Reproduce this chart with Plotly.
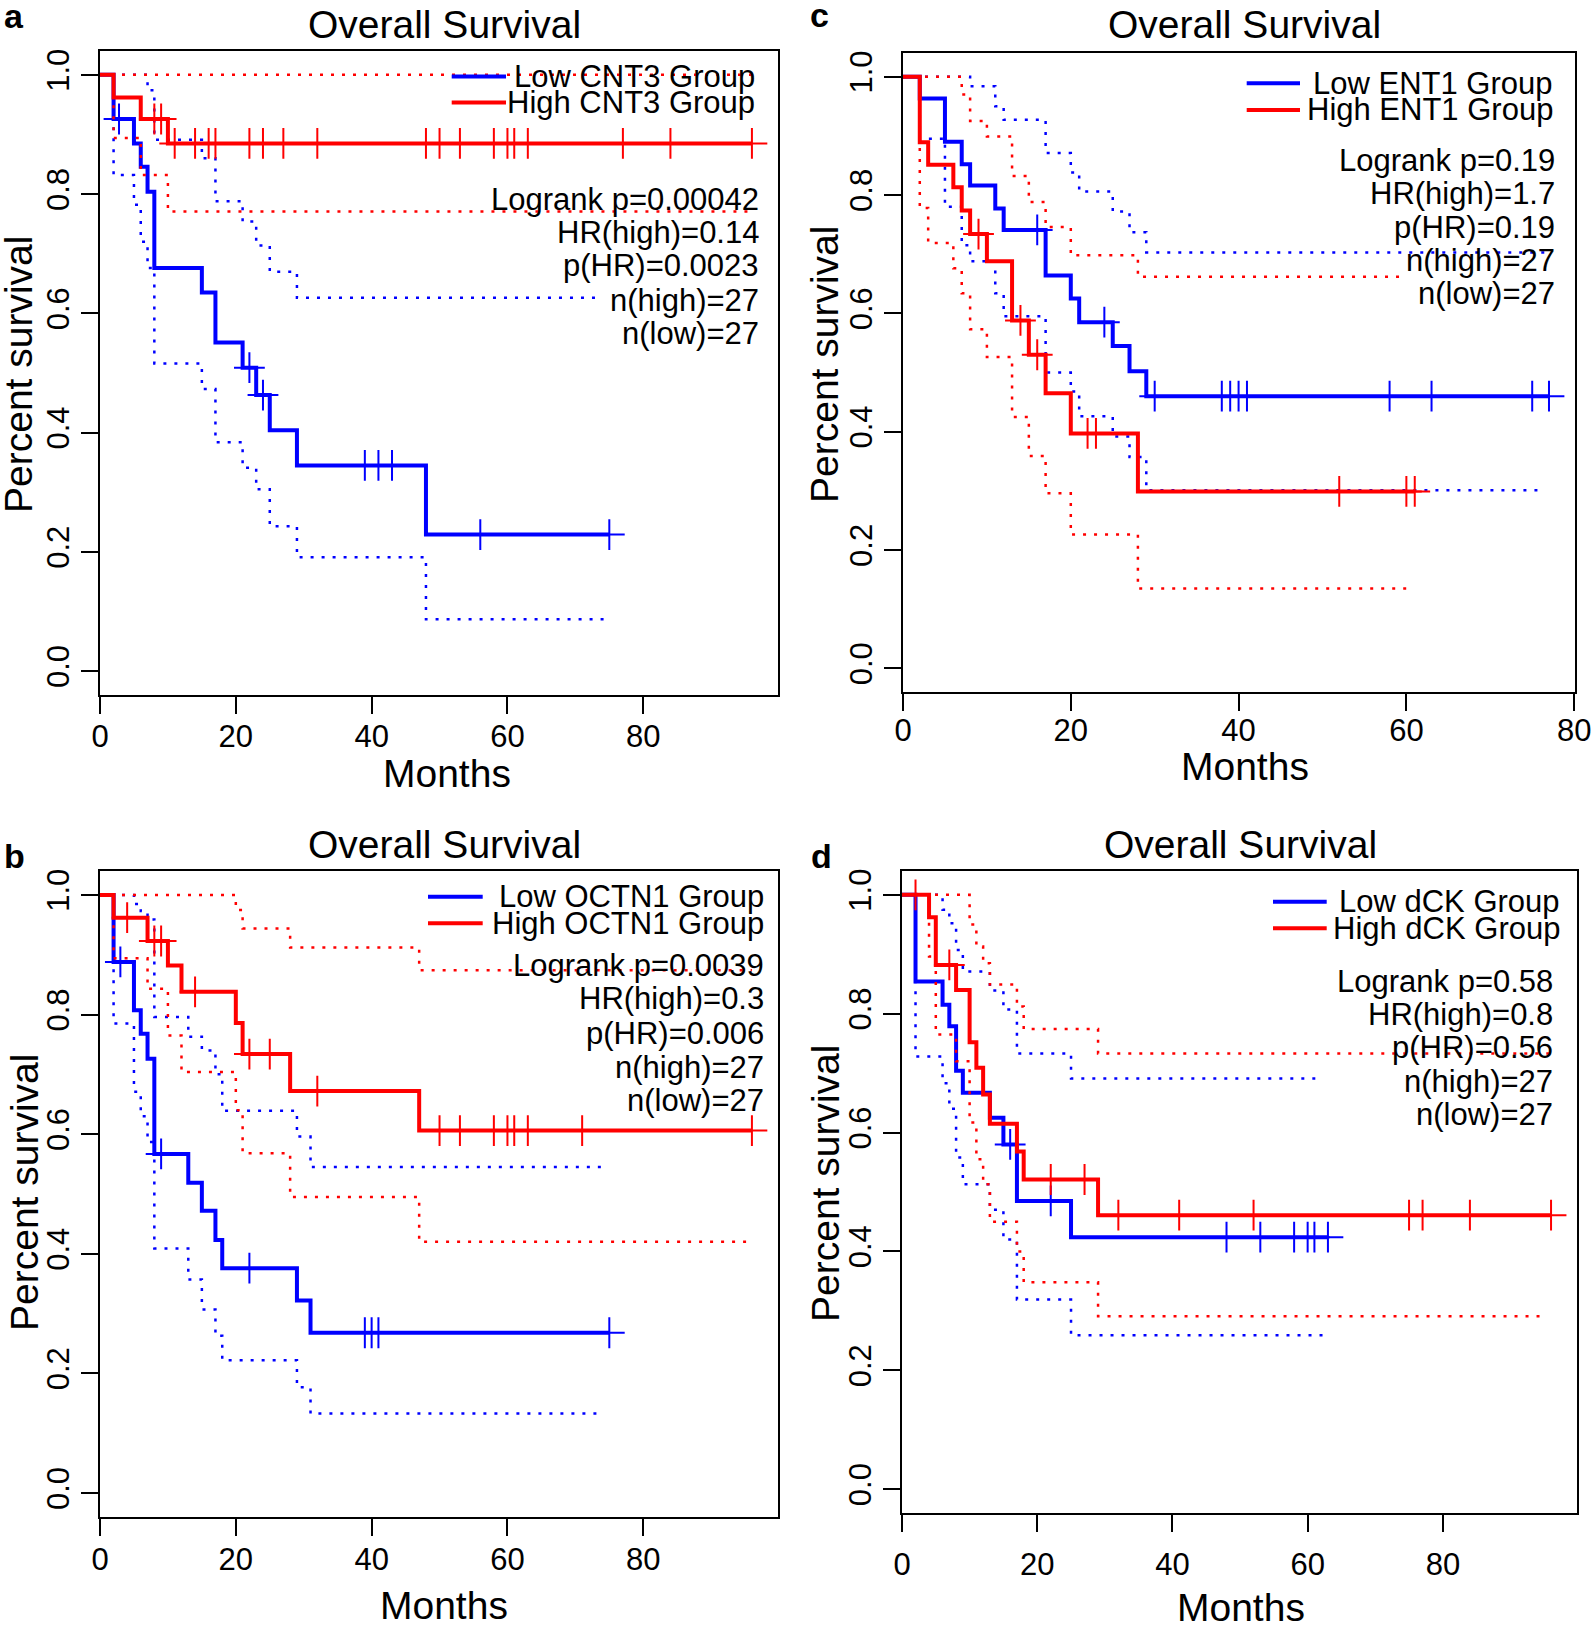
import numpy as np
import plotly.graph_objects as go

# ---------------- panel a : CNT3 ----------------
a_low_t = [0, 2, 5, 6, 7, 8, 15, 17, 21, 23, 25, 29, 48]
a_low_s = [1.0, 0.926, 0.885, 0.846, 0.804, 0.676, 0.635, 0.551, 0.509, 0.463, 0.404, 0.345, 0.229]
a_low_cens = [2.8, 22, 24, 39, 41, 43, 56, 75]
a_low_up_t = [0, 7, 8, 15, 17, 21, 23, 25, 29]
a_low_up = [1.0, 0.974, 0.891, 0.86, 0.788, 0.754, 0.714, 0.67, 0.626]
a_low_up_end = 74
a_low_lo_t = [0, 2, 5, 6, 7, 8, 15, 17, 21, 23, 25, 29, 48]
a_low_lo = [1.0, 0.832, 0.782, 0.72, 0.676, 0.516, 0.473, 0.384, 0.341, 0.305, 0.243, 0.191, 0.087]
a_low_lo_end = 75

a_high_t = [0, 2, 6, 10]
a_high_s = [1.0, 0.962, 0.926, 0.885]
a_high_cens = [8, 9, 11, 14, 16, 17, 22, 24, 27, 32, 48, 50, 53, 58, 60, 61, 63, 77, 84, 96]
a_high_up_t = [0]
a_high_up = [1.0]
a_high_up_end = 96
a_high_lo_t = [0, 2, 6, 10]
a_high_lo = [1.0, 0.894, 0.832, 0.771]
a_high_lo_end = 96

a_stats = ["Logrank p=0.00042", "HR(high)=0.14", "p(HR)=0.0023", "n(high)=27", "n(low)=27"]

# ---------------- panel c : ENT1 ----------------
c_low_t = [0, 2, 5, 7, 8, 11, 12, 17, 20, 21, 25, 27, 29]
c_low_s = [1.0, 0.963, 0.89, 0.852, 0.816, 0.777, 0.741, 0.664, 0.625, 0.585, 0.545, 0.502, 0.46]
c_low_cens = [16, 24, 30, 38, 39, 40, 41, 58, 63, 75, 77]
c_low_up_t = [0, 8, 11, 12, 17, 20, 21, 25, 27, 29]
c_low_up = [1.0, 0.984, 0.95, 0.927, 0.871, 0.838, 0.806, 0.772, 0.737, 0.703]
c_low_up_end = 76.8
c_low_lo_t = [0, 2, 5, 7, 8, 11, 12, 17, 20, 21, 25, 27, 29]
c_low_lo = [1.0, 0.895, 0.78, 0.715, 0.688, 0.634, 0.595, 0.50, 0.468, 0.426, 0.392, 0.357, 0.301]
c_low_lo_end = 76.4

c_high_t = [0, 2, 3, 6, 7, 8, 10, 13, 15, 17, 20, 28]
c_high_s = [1.0, 0.889, 0.851, 0.813, 0.774, 0.734, 0.688, 0.588, 0.53, 0.465, 0.397, 0.299]
c_high_cens = [9, 14, 16, 22, 23, 52, 60, 61]
c_high_up_t = [0, 7, 8, 10, 13, 15, 17, 20, 28]
c_high_up = [1.0, 0.97, 0.925, 0.899, 0.832, 0.788, 0.746, 0.698, 0.662]
c_high_up_end = 60
c_high_lo_t = [0, 2, 3, 6, 7, 8, 10, 13, 15, 17, 20, 28]
c_high_lo = [1.0, 0.778, 0.719, 0.676, 0.634, 0.573, 0.526, 0.425, 0.359, 0.296, 0.226, 0.135]
c_high_lo_end = 60.7

c_stats = ["Logrank p=0.19", "HR(high)=1.7", "p(HR)=0.19", "n(high)=27", "n(low)=27"]

# ---------------- panel b : OCTN1 ----------------
b_low_t = [0, 2, 5, 6, 7, 8, 13, 15, 17, 18, 29, 31]
b_low_s = [1.0, 0.888, 0.807, 0.768, 0.726, 0.567, 0.519, 0.472, 0.423, 0.376, 0.322, 0.268]
b_low_cens = [3, 9, 22, 39, 40, 41, 75]
b_low_up_t = [0, 5, 6, 7, 8, 13, 15, 17, 18, 29, 31]
b_low_up = [1.0, 0.985, 0.973, 0.959, 0.796, 0.763, 0.74, 0.70, 0.639, 0.596, 0.545]
b_low_up_end = 74.5
b_low_lo_t = [0, 2, 5, 6, 7, 8, 13, 15, 17, 18, 29, 31]
b_low_lo = [1.0, 0.785, 0.671, 0.63, 0.587, 0.409, 0.357, 0.307, 0.263, 0.222, 0.177, 0.133]
b_low_lo_end = 74

b_high_t = [0, 2, 7, 10, 12, 20, 21, 28, 47]
b_high_s = [1.0, 0.962, 0.923, 0.882, 0.838, 0.786, 0.734, 0.672, 0.606]
b_high_cens = [4, 8, 9, 14, 22, 25, 32, 50, 53, 58, 60, 61, 63, 71, 96]
b_high_up_t = [0, 20, 21, 28, 47]
b_high_up = [1.0, 0.975, 0.944, 0.912, 0.874]
b_high_up_end = 96
b_high_lo_t = [0, 2, 7, 10, 12, 20, 21, 28, 47]
b_high_lo = [1.0, 0.894, 0.843, 0.765, 0.704, 0.64, 0.568, 0.495, 0.42]
b_high_lo_end = 95.8

b_stats = ["Logrank p=0.0039", "HR(high)=0.3", "p(HR)=0.006", "n(high)=27", "n(low)=27"]

# ---------------- panel d : dCK ----------------
d_low_t = [0, 2, 6, 7, 8, 9, 13, 15, 17, 25]
d_low_s = [1.0, 0.854, 0.815, 0.779, 0.704, 0.667, 0.625, 0.58, 0.485, 0.424]
d_low_cens = [16, 22, 48, 53, 58, 60, 61, 63]
d_low_up_t = [0, 6, 7, 8, 9, 13, 15, 17, 25]
d_low_up = [1.0, 0.975, 0.952, 0.907, 0.871, 0.839, 0.807, 0.733, 0.691]
d_low_up_end = 62.3
d_low_lo_t = [0, 2, 6, 7, 8, 9, 13, 15, 17, 25]
d_low_lo = [1.0, 0.728, 0.683, 0.64, 0.558, 0.513, 0.47, 0.42, 0.319, 0.259]
d_low_lo_end = 63

d_high_t = [0, 4, 5, 8, 10, 11, 12, 13, 17, 18, 29]
d_high_s = [1.0, 0.962, 0.882, 0.84, 0.752, 0.709, 0.664, 0.615, 0.568, 0.521, 0.461]
d_high_cens = [2, 7, 22, 27, 32, 41, 52, 75, 77, 84, 96]
d_high_up_t = [0, 10, 11, 12, 13, 17, 18, 29]
d_high_up = [1.0, 0.95, 0.913, 0.885, 0.849, 0.812, 0.774, 0.733]
d_high_up_end = 96
d_high_lo_t = [0, 4, 5, 8, 10, 11, 12, 13, 17, 18, 29]
d_high_lo = [1.0, 0.896, 0.765, 0.72, 0.617, 0.555, 0.513, 0.45, 0.40, 0.348, 0.291]
d_high_lo_end = 95

d_stats = ["Logrank p=0.58", "HR(high)=0.8", "p(HR)=0.56", "n(high)=27", "n(low)=27"]

x_ticks = [0, 20, 40, 60, 80]
y_ticks = [0.0, 0.2, 0.4, 0.6, 0.8, 1.0]

W, H = 1593, 1626
FONT = "Liberation Sans, Arial, Helvetica, sans-serif"
BLUE = "#0000FF"
RED = "#FF0000"


def px(x):
    return x / W


def py(y):
    return 1 - y / H


def step_at(t, s, x):
    idx = np.searchsorted(np.asarray(t, float), np.asarray(x, float), side="right") - 1
    return np.asarray(s, float)[idx]


def add_group(fig, ax, color, t, s, cens, up_t, up, up_end, lo_t, lo, lo_end):
    xa, ya = ax
    dot = dict(color=color, width=2.5, dash="3px,8px")
    # confidence band, dotted
    fig.add_trace(go.Scatter(x=up_t + [up_end], y=up + [up[-1]], mode="lines",
                             line=dict(shape="hv", **dot), xaxis=xa, yaxis=ya, hoverinfo="skip"))
    fig.add_trace(go.Scatter(x=lo_t + [lo_end], y=lo + [lo[-1]], mode="lines",
                             line=dict(shape="hv", **dot), xaxis=xa, yaxis=ya, hoverinfo="skip"))
    # KM curve
    end = max(cens[-1], t[-1])
    fig.add_trace(go.Scatter(x=t + [end], y=s + [s[-1]], mode="lines",
                             line=dict(shape="hv", color=color, width=4), xaxis=xa, yaxis=ya))
    # censor marks
    fig.add_trace(go.Scatter(x=cens, y=step_at(t, s, cens), mode="markers",
                             marker=dict(symbol="cross-thin", size=22, line=dict(color=color, width=2)),
                             xaxis=xa, yaxis=ya))


fig = go.Figure()

panels = [
    dict(letter="a", gene="CNT3", ax=("x", "y"), xmax=99.84, box=(100, 778, 51, 695), xstand=-4,
         title=(444, 24), xlab=(447, 773), ylab=(18, 375), let=(14, 15.5),
         leg_right=756.5, leg_y=(76.5, 102.5), leg_line=(451.7, 506), st_right=760.5,
         st_y=[199, 232, 265.5, 300.5, 333.5], stats=a_stats,
         low=(a_low_t, a_low_s, a_low_cens, a_low_up_t, a_low_up, a_low_up_end, a_low_lo_t, a_low_lo, a_low_lo_end),
         high=(a_high_t, a_high_s, a_high_cens, a_high_up_t, a_high_up, a_high_up_end, a_high_lo_t, a_high_lo, a_high_lo_end)),
    dict(letter="c", gene="ENT1", ax=("x2", "y2"), xmax=80.1, box=(903, 1575, 53, 692), xstand=-7,
         title=(1244, 24), xlab=(1245, 767), ylab=(825, 365), let=(819, 15),
         leg_right=1555, leg_y=(83.3, 110), leg_line=(1246.7, 1300), st_right=1556.5,
         st_y=[160.5, 193.8, 227.2, 260.5, 293.8], stats=c_stats,
         low=(c_low_t, c_low_s, c_low_cens, c_low_up_t, c_low_up, c_low_up_end, c_low_lo_t, c_low_lo, c_low_lo_end),
         high=(c_high_t, c_high_s, c_high_cens, c_high_up_t, c_high_up, c_high_up_end, c_high_lo_t, c_high_lo, c_high_lo_end)),
    dict(letter="b", gene="OCTN1", ax=("x3", "y3"), xmax=99.84, box=(100, 778, 871, 1517), xstand=-3,
         title=(444, 845), xlab=(444, 1605), ylab=(24, 1193), let=(14, 855.5),
         leg_right=766, leg_y=(896.7, 923.3), leg_line=(428, 482.7), st_right=766,
         st_y=[965.5, 998.8, 1033.2, 1067.2, 1100.5], stats=b_stats,
         low=(b_low_t, b_low_s, b_low_cens, b_low_up_t, b_low_up, b_low_up_end, b_low_lo_t, b_low_lo, b_low_lo_end),
         high=(b_high_t, b_high_s, b_high_cens, b_high_up_t, b_high_up, b_high_up_end, b_high_lo_t, b_high_lo, b_high_lo_end)),
    dict(letter="d", gene="dCK", ax=("x4", "y4"), xmax=99.84, box=(902, 1577, 871, 1513), xstand=6,
         title=(1240, 845), xlab=(1241, 1607), ylab=(825, 1184), let=(822, 855.5),
         leg_right=1562, leg_y=(901.7, 928.3), leg_line=(1273, 1326.7), st_right=1555,
         st_y=[981.2, 1014.5, 1047.8, 1081.2, 1114.5], stats=d_stats,
         low=(d_low_t, d_low_s, d_low_cens, d_low_up_t, d_low_up, d_low_up_end, d_low_lo_t, d_low_lo, d_low_lo_end),
         high=(d_high_t, d_high_s, d_high_cens, d_high_up_t, d_high_up, d_high_up_end, d_high_lo_t, d_high_lo, d_high_lo_end)),
]

annotations = []
shapes = []
layout_axes = {}

for p in panels:
    add_group(fig, p["ax"], BLUE, *p["low"])
    add_group(fig, p["ax"], RED, *p["high"])

    x0, x1, y0, y1 = p["box"]
    xname = "xaxis" + p["ax"][0][1:]
    yname = "yaxis" + p["ax"][1][1:]
    common = dict(showline=True, mirror=True, linecolor="black", linewidth=2,
                  ticks="outside", ticklen=17, tickwidth=2, tickcolor="black",
                  showgrid=False, zeroline=False,
                  tickfont=dict(family=FONT, size=31, color="black"))
    layout_axes[xname] = dict(domain=[px(x0), px(x1)], range=[0, p["xmax"]],
                              anchor=p["ax"][1], tickvals=x_ticks, ticklabelstandoff=p["xstand"], **common)
    layout_axes[yname] = dict(domain=[py(y1), py(y0)], range=[-0.04, 1.04],
                              anchor=p["ax"][0], tickvals=y_ticks, tickformat=".1f",
                              tickangle=-90, ticklabelstandoff=0, **common)

    annotations.append(dict(text="Overall Survival", x=px(p["title"][0]), y=py(p["title"][1]),
                            font=dict(size=39)))
    annotations.append(dict(text="Months", x=px(p["xlab"][0]), y=py(p["xlab"][1]),
                            font=dict(size=39)))
    annotations.append(dict(text="Percent survival", x=px(p["ylab"][0]), y=py(p["ylab"][1]),
                            textangle=-90, font=dict(size=39)))
    annotations.append(dict(text="<b>" + p["letter"] + "</b>", x=px(p["let"][0]), y=py(p["let"][1]),
                            font=dict(size=34)))

    for lab, yy, col in [("Low %s Group" % p["gene"], p["leg_y"][0], BLUE),
                         ("High %s Group" % p["gene"], p["leg_y"][1], RED)]:
        annotations.append(dict(text=lab, x=px(p["leg_right"]), y=py(yy), xanchor="right",
                                font=dict(size=31)))
        shapes.append(dict(type="line", xref="paper", yref="paper",
                           x0=px(p["leg_line"][0]), x1=px(p["leg_line"][1]), y0=py(yy), y1=py(yy),
                           line=dict(color=col, width=4)))

    for txt, yy in zip(p["stats"], p["st_y"]):
        annotations.append(dict(text=txt, x=px(p["st_right"]), y=py(yy), xanchor="right",
                                font=dict(size=31)))

for a in annotations:
    a.setdefault("xref", "paper")
    a.setdefault("yref", "paper")
    a.setdefault("xanchor", "center")
    a.setdefault("yanchor", "middle")
    a.setdefault("showarrow", False)
    a["font"].update(family=FONT, color="black")

fig.update_layout(
    width=W, height=H,
    margin=dict(l=0, r=0, t=0, b=0, autoexpand=False),
    paper_bgcolor="white", plot_bgcolor="white",
    showlegend=False,
    annotations=annotations,
    shapes=shapes,
    **layout_axes
)

# the page body has a default margin; drop it so the figure fills the window
fig.write_html("out.html", config={"responsive": False, "displayModeBar": False},
               post_script="document.body.style.margin='0';document.body.style.overflow='hidden';")
